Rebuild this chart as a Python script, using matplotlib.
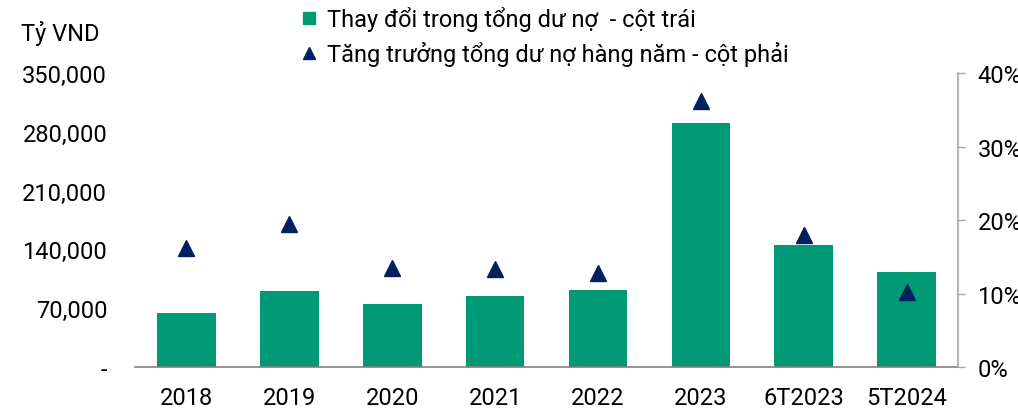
import matplotlib
matplotlib.use("Agg")
import matplotlib.pyplot as plt
from matplotlib.lines import Line2D
from matplotlib.ticker import FuncFormatter, MultipleLocator

plt.rcParams['font.family'] = ['Roboto', 'DejaVu Sans']

# Dữ liệu
categories = ['2018', '2019', '2020', '2021', '2022', '2023', '6T2023', '5T2024']
debt_change = [64600, 90500, 74600, 84500, 91300, 290500, 145200, 112700]   # tỷ VND
debt_growth = [16.2, 19.5, 13.5, 13.4, 12.8, 36.2, 18.0, 10.2]              # %

bar_color = '#009975'
tri_color = '#002060'
fs = 17

fig = plt.figure(figsize=(10.18, 4.10), dpi=100)
ax = fig.add_axes([0.1326, 0.1024, 0.8085, 0.7171])
ax2 = ax.twinx()

x = range(len(categories))
ax.bar(x, debt_change, width=0.57, color=bar_color, zorder=2)
ax2.plot(x, debt_growth, linestyle='none', marker='^', markersize=11,
         color=tri_color, zorder=3)

ax.set_xlim(-0.5, len(categories) - 0.5)
ax.set_ylim(0, 350000)
ax2.set_ylim(0, 40)

ax.yaxis.set_major_locator(MultipleLocator(70000))
ax.yaxis.set_major_formatter(FuncFormatter(lambda v, p: '-' if v == 0 else f'{v:,.0f}'))
ax2.yaxis.set_major_locator(MultipleLocator(10))
ax2.yaxis.set_major_formatter(FuncFormatter(lambda v, p: f'{v:.0f}%'))

ax.set_xticks(list(x))
ax.set_xticklabels(categories)

for a in (ax, ax2):
    for s in ('top', 'left'):
        a.spines[s].set_visible(False)
ax.spines['right'].set_visible(False)
ax2.spines['bottom'].set_visible(False)
ax.spines['bottom'].set_color('#808080')
ax.spines['bottom'].set_linewidth(1.2)
ax2.spines['right'].set_color('#a6a6a6')
ax2.spines['right'].set_linewidth(1.2)

ax.tick_params(axis='y', length=0, pad=20, labelsize=fs)
ax.tick_params(axis='x', length=0, pad=14, labelsize=fs)
ax2.tick_params(axis='y', length=5, width=1, color='#a6a6a6', direction='out',
                pad=9, labelsize=fs)

fig.text(0.021, 0.918, 'Tỷ VND', fontsize=fs, va='center', ha='left')

handles = [
    Line2D([], [], linestyle='none', marker='s', markersize=9, color=bar_color),
    Line2D([], [], linestyle='none', marker='^', markersize=9, color=tri_color),
]
labels = ['Thay đổi trong tổng dư nợ  - cột trái',
          'Tăng trưởng tổng dư nợ hàng năm - cột phải']
fig.legend(handles, labels, loc='upper left', bbox_to_anchor=(0.285, 1.005),
           frameon=False, fontsize=fs, handlelength=0.8, handletextpad=0.35,
           labelspacing=0.4, borderaxespad=0)

fig.savefig('out.png', dpi=100)
